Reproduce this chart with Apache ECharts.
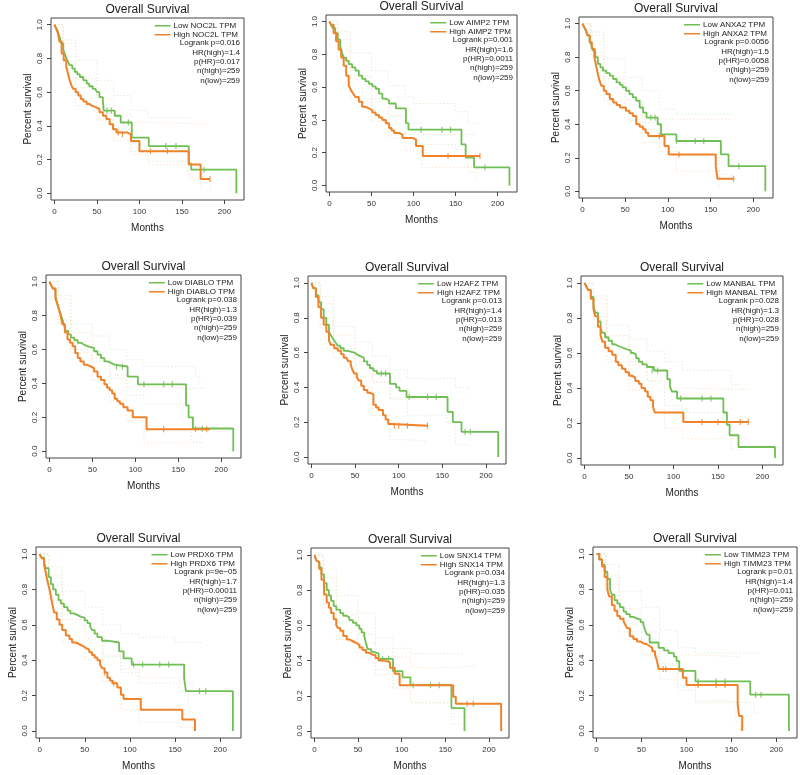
<!DOCTYPE html>
<html>
<head>
<meta charset="utf-8">
<script src="https://cdn.jsdelivr.net/npm/echarts@6/dist/echarts.min.js"></script>
<style>
  html, body { margin: 0; background: #fff; }
  #chart { width: 800px; height: 775px; }
</style>
</head>
<body>
<div id="chart"></div>
<script>
// genes and the stats printed in each panel
const genes = ['NOC2L', 'AIMP2', 'ANXA2', 'DIABLO', 'H2AFZ', 'MANBAL', 'PRDX6', 'SNX14', 'TIMM23'];
const logrankP = ['0.016', '0.001', '0.0056', '0.038', '0.013', '0.028', '9e\u221205', '0.034', '0.01'];
const hrHigh = ['1.4', '1.6', '1.5', '1.3', '1.4', '1.3', '1.7', '1.3', '1.4'];
const pHR = ['0.017', '0.0011', '0.0058', '0.039', '0.013', '0.028', '0.00011', '0.035', '0.011'];
const nHigh = [259, 259, 259, 259, 259, 259, 259, 259, 259];
const nLow = [259, 259, 259, 259, 259, 259, 259, 259, 259];

const xTicks = [0, 50, 100, 150, 200];
const yTicks = [0, 0.2, 0.4, 0.6, 0.8, 1.0];

// KM curves [month, survival]
const noc2lLow = [[0,1],[2,0.98],[4,0.96],[6,0.93],[8,0.89],[10.5,0.85],[12,0.83],[14,0.80],[16,0.78],[18,0.76],[21,0.74],[24,0.72],[27,0.705],[30,0.69],[34,0.67],[38,0.65],[41,0.635],[45,0.62],[48,0.61],[50,0.60],[53,0.57],[57,0.55],[58,0.49],[71,0.46],[78,0.42],[91,0.33],[111,0.28],[158,0.175],[161,0.14],[214,0.14],[214,0]];
const noc2lHigh = [[0,1],[2,0.98],[4,0.95],[6,0.90],[8.5,0.83],[11,0.79],[14,0.75],[16,0.71],[18,0.67],[20,0.64],[22,0.62],[25,0.60],[28,0.58],[31,0.56],[34,0.545],[38,0.53],[41,0.52],[44,0.51],[49,0.50],[53,0.48],[57,0.46],[61,0.44],[65,0.41],[69,0.38],[73,0.36],[86,0.35],[90,0.31],[100,0.25],[158,0.17],[172,0.085],[183,0.085]];
const aimp2Low = [[0,1],[2,0.98],[4,0.96],[7,0.93],[10,0.89],[13,0.85],[15,0.81],[17,0.78],[20,0.76],[23,0.74],[27,0.72],[31,0.70],[35,0.67],[39,0.65],[43,0.635],[47,0.62],[51,0.605],[55,0.59],[59,0.56],[63,0.53],[67,0.52],[71,0.50],[79,0.47],[91,0.38],[94,0.34],[157,0.25],[162,0.17],[172,0.11],[214,0.11],[214,0]];
const aimp2High = [[0,1],[2,0.98],[5,0.93],[8,0.88],[11,0.83],[14,0.78],[17,0.73],[20,0.67],[23,0.61],[25,0.59],[27,0.57],[29,0.555],[31,0.54],[35,0.51],[39,0.48],[43,0.47],[47,0.46],[51,0.445],[55,0.43],[59,0.415],[63,0.40],[67,0.38],[71,0.35],[74,0.335],[77,0.32],[83,0.31],[87,0.29],[99,0.28],[103,0.24],[111,0.18],[179,0.18]];
const anxa2Low = [[0,1],[2,0.98],[4,0.96],[6,0.93],[8.5,0.90],[10.5,0.87],[12.5,0.84],[15,0.80],[18,0.76],[21,0.74],[24,0.72],[28,0.705],[32,0.69],[36,0.67],[40,0.65],[44,0.635],[47,0.62],[51,0.60],[55,0.58],[59,0.56],[63,0.54],[67,0.50],[71,0.47],[75,0.44],[88,0.40],[92,0.34],[110,0.30],[162,0.22],[171,0.15],[214,0.15],[214,0]];
const anxa2High = [[0,1],[2,0.98],[4,0.96],[6,0.93],[8.5,0.89],[11,0.85],[14,0.80],[16,0.75],[18,0.70],[20,0.66],[22,0.63],[25,0.60],[28,0.58],[32,0.55],[36,0.53],[40,0.515],[44,0.50],[51,0.48],[55,0.465],[59,0.45],[63,0.40],[67,0.385],[71,0.37],[74,0.35],[77,0.33],[96,0.27],[101,0.22],[156,0.15],[158,0.075],[177,0.075]];
const diabloLow = [[0,1],[2,0.98],[4,0.96],[7,0.91],[9,0.875],[11,0.84],[13,0.81],[15,0.78],[17,0.745],[19,0.71],[22,0.69],[25,0.67],[29,0.655],[33,0.64],[37,0.63],[40,0.62],[44,0.615],[48,0.61],[52,0.59],[56,0.57],[60,0.55],[64,0.53],[68,0.52],[72,0.51],[76,0.50],[91,0.44],[103,0.395],[159,0.27],[162,0.20],[167,0.134],[214,0.134],[214,0]];
const diabloHigh = [[0,1],[2,0.98],[4,0.96],[7,0.90],[9,0.87],[11,0.84],[13,0.80],[15,0.75],[18,0.70],[21,0.66],[24,0.64],[27,0.62],[30,0.58],[33,0.55],[36,0.53],[40,0.51],[44,0.50],[48,0.49],[52,0.47],[56,0.44],[60,0.42],[64,0.395],[67,0.375],[70,0.36],[73,0.34],[76,0.31],[79,0.295],[82,0.28],[86,0.26],[91,0.24],[97,0.20],[113,0.13],[187,0.13]];
const h2afzLow = [[0,1],[2,0.97],[5,0.93],[8,0.89],[11,0.85],[14,0.80],[17,0.76],[20,0.72],[22,0.70],[24,0.685],[26,0.67],[28,0.655],[30,0.64],[33,0.625],[37,0.61],[41,0.605],[45,0.60],[49,0.59],[52,0.58],[56,0.57],[60,0.55],[64,0.53],[67,0.51],[71,0.495],[75,0.48],[90,0.42],[97,0.40],[101,0.38],[109,0.345],[156,0.26],[162,0.20],[172,0.145],[214,0.145],[214,0]];
const h2afzHigh = [[0,1],[2,0.97],[5,0.92],[8,0.86],[11,0.80],[14,0.76],[17,0.72],[20,0.67],[22,0.645],[26,0.625],[30,0.61],[34,0.59],[37,0.57],[40,0.56],[42,0.55],[45,0.53],[47,0.50],[49,0.48],[52,0.46],[54,0.44],[57,0.41],[60,0.385],[64,0.37],[67,0.36],[71,0.30],[74,0.285],[77,0.27],[82,0.24],[85,0.215],[88,0.19],[92,0.18],[133,0.18]];
const manbalLow = [[0,1],[2,0.98],[4,0.96],[7,0.92],[10,0.87],[12,0.83],[15,0.78],[18,0.74],[20,0.715],[23,0.69],[27,0.67],[31,0.65],[34,0.64],[38,0.63],[43,0.62],[48,0.615],[52,0.60],[55,0.59],[58,0.57],[61,0.55],[65,0.535],[70,0.52],[78,0.50],[93,0.45],[96,0.41],[98,0.38],[104,0.34],[156,0.26],[160,0.19],[163,0.13],[173,0.063],[214,0.063],[214,0]];
const manbalHigh = [[0,1],[2,0.98],[4,0.96],[7,0.91],[10,0.85],[12,0.81],[15,0.75],[18,0.70],[20,0.665],[23,0.63],[27,0.61],[31,0.59],[35,0.55],[38,0.53],[42,0.51],[46,0.49],[50,0.47],[53,0.46],[57,0.44],[61,0.425],[64,0.40],[68,0.38],[71,0.35],[74,0.33],[77,0.29],[79,0.26],[111,0.206],[184,0.206]];
const prdx6Low = [[0,1],[2,0.98],[5,0.95],[7,0.92],[10,0.87],[12.5,0.83],[15,0.80],[18,0.77],[21,0.74],[23.5,0.72],[27,0.70],[31,0.68],[34,0.665],[38,0.655],[42,0.645],[46,0.64],[50,0.625],[53,0.61],[56,0.59],[58,0.57],[61,0.55],[64,0.53],[69,0.51],[75,0.50],[88,0.45],[93,0.41],[102,0.375],[160,0.30],[162,0.225],[214,0.225],[214,0]];
const prdx6High = [[0,1],[2,0.98],[3,0.97],[5,0.94],[7,0.89],[9,0.84],[11,0.80],[12.5,0.76],[14,0.72],[16,0.67],[19,0.63],[22,0.60],[25,0.57],[29,0.54],[33,0.52],[36,0.50],[40,0.49],[44,0.48],[48,0.47],[51,0.46],[55,0.445],[58,0.43],[61,0.415],[64,0.40],[67,0.375],[69,0.355],[72,0.33],[75,0.30],[78,0.285],[80.5,0.27],[86,0.245],[90,0.205],[93,0.18],[112,0.12],[158,0.065],[172,0]];
const snx14Low = [[0,1],[2,0.97],[3,0.96],[5.5,0.93],[8,0.89],[11,0.84],[14,0.80],[16.5,0.77],[19,0.74],[22,0.71],[25,0.69],[29.5,0.67],[33,0.655],[37,0.645],[40,0.63],[44,0.615],[48,0.60],[51.5,0.58],[54,0.56],[57,0.54],[59,0.50],[61,0.465],[65,0.45],[68,0.44],[73.5,0.41],[90,0.34],[101,0.305],[110,0.26],[157,0.13],[172,0]];
const snx14High = [[0,1],[2,0.97],[3,0.96],[5.5,0.92],[8,0.86],[11,0.775],[14,0.73],[16.5,0.70],[19,0.67],[22,0.635],[25,0.60],[27,0.585],[29.5,0.57],[33,0.54],[37,0.52],[40,0.51],[44,0.50],[48,0.49],[51.5,0.475],[55,0.46],[59,0.445],[62,0.435],[66,0.43],[70,0.415],[73.5,0.40],[81,0.39],[86.5,0.36],[92,0.325],[97.6,0.26],[159,0.195],[162,0.155],[214,0.155],[214,0]];
const timm23Low = [[0,1],[3,0.97],[6,0.94],[9,0.90],[12,0.86],[15,0.80],[17,0.77],[20,0.74],[23,0.72],[26,0.70],[30,0.675],[33,0.66],[37,0.645],[41,0.635],[45,0.63],[49,0.615],[52,0.60],[54,0.57],[56,0.545],[59,0.50],[69,0.47],[75,0.455],[80,0.44],[86,0.42],[89,0.395],[92,0.34],[110,0.28],[171,0.205],[214,0.205],[214,0]];
const timm23High = [[0,1],[3,0.97],[6,0.93],[9,0.87],[12,0.80],[14,0.76],[17,0.71],[20,0.68],[23,0.65],[26,0.635],[30,0.62],[32,0.60],[34,0.58],[37,0.535],[41,0.52],[45,0.505],[49,0.495],[52,0.49],[56,0.48],[59,0.47],[62,0.45],[65,0.43],[67,0.40],[69,0.35],[96,0.30],[100,0.26],[157,0.15],[158.5,0.085],[162,0]];

// 95% confidence bands (faint dotted)
const noc2lLowUp = [[0,1],[10,0.91],[25,0.79],[50,0.67],[70,0.58],[90,0.49],[110,0.45],[160,0.45]];
const noc2lLowLo = [[0,1],[10,0.78],[25,0.63],[50,0.51],[70,0.38],[90,0.25],[110,0.19],[158,0.08],[172,0.03]];
const noc2lHighUp = [[0,1],[10,0.89],[25,0.68],[50,0.56],[70,0.47],[90,0.42],[110,0.41],[180,0.41]];
const noc2lHighLo = [[0,1],[10,0.75],[25,0.52],[50,0.43],[70,0.31],[90,0.23],[110,0.17],[160,0.09],[183,0.02]];
const aimp2LowUp = [[0,1],[10,0.94],[25,0.81],[50,0.70],[70,0.61],[90,0.54],[100,0.50],[150,0.45],[165,0.38],[175,0.37]];
const aimp2LowLo = [[0,1],[10,0.82],[25,0.67],[50,0.53],[70,0.42],[90,0.31],[100,0.25],[150,0.22],[165,0.08],[175,0.03]];
const aimp2HighUp = [[0,1],[10,0.89],[25,0.66],[50,0.51],[70,0.43],[90,0.38],[110,0.31],[175,0.30]];
const aimp2HighLo = [[0,1],[10,0.77],[25,0.53],[50,0.39],[70,0.29],[90,0.21],[110,0.11],[175,0.08]];
const anxa2LowUp = [[0,1],[10,0.95],[25,0.79],[50,0.68],[70,0.60],[90,0.49],[110,0.46],[175,0.45]];
const anxa2LowLo = [[0,1],[10,0.83],[25,0.65],[50,0.55],[70,0.41],[90,0.26],[110,0.21],[160,0.10],[175,0.04]];
const anxa2HighUp = [[0,1],[10,0.93],[25,0.67],[50,0.54],[70,0.45],[90,0.43],[110,0.43],[175,0.43]];
const anxa2HighLo = [[0,1],[10,0.81],[25,0.54],[50,0.42],[70,0.29],[90,0.24],[110,0.12],[160,0.02]];
const diabloLowUp = [[0,1],[10,0.92],[25,0.75],[50,0.68],[70,0.60],[90,0.54],[110,0.50],[155,0.50],[170,0.44],[175,0.38]];
const diabloLowLo = [[0,1],[10,0.78],[25,0.60],[50,0.53],[70,0.43],[90,0.33],[110,0.28],[155,0.27],[165,0.06],[175,0.04]];
const diabloHighUp = [[0,1],[10,0.90],[25,0.70],[50,0.55],[70,0.45],[90,0.38],[110,0.37],[180,0.37]];
const diabloHighLo = [[0,1],[10,0.75],[25,0.58],[50,0.42],[70,0.30],[90,0.18],[110,0.05],[180,0.05]];
const h2afzLowUp = [[0,1],[10,0.92],[25,0.75],[50,0.66],[70,0.58],[90,0.50],[110,0.45],[155,0.45],[165,0.40],[180,0.37]];
const h2afzLowLo = [[0,1],[10,0.80],[25,0.62],[50,0.53],[70,0.43],[90,0.33],[110,0.24],[155,0.20],[165,0.07],[180,0.05]];
const h2afzHighUp = [[0,1],[10,0.88],[25,0.70],[50,0.55],[70,0.43],[90,0.34],[110,0.33],[133,0.33]];
const h2afzHighLo = [[0,1],[10,0.74],[25,0.57],[50,0.40],[70,0.24],[90,0.10],[110,0.09],[133,0.09]];
const manbalLowUp = [[0,1],[10,0.93],[25,0.76],[50,0.68],[70,0.61],[90,0.55],[110,0.50],[150,0.50],[165,0.42],[175,0.41]];
const manbalLowLo = [[0,1],[10,0.81],[25,0.62],[50,0.55],[70,0.44],[90,0.30],[110,0.26],[155,0.20],[165,0.05],[175,0.02]];
const manbalHighUp = [[0,1],[10,0.91],[25,0.70],[50,0.53],[70,0.44],[90,0.40],[110,0.39],[184,0.39]];
const manbalHighLo = [[0,1],[10,0.79],[25,0.55],[50,0.39],[70,0.28],[90,0.17],[110,0.11],[184,0.11]];
const prdx6LowUp = [[0,1],[10,0.93],[25,0.79],[50,0.70],[70,0.60],[90,0.55],[110,0.53],[150,0.50],[180,0.50]];
const prdx6LowLo = [[0,1],[10,0.82],[25,0.66],[50,0.56],[70,0.42],[90,0.33],[110,0.27],[155,0.22],[165,0.10],[180,0.10]];
const prdx6HighUp = [[0,1],[10,0.88],[25,0.63],[50,0.52],[70,0.43],[90,0.35],[110,0.30],[155,0.27],[170,0.23]];
const prdx6HighLo = [[0,1],[10,0.74],[25,0.50],[50,0.40],[70,0.28],[90,0.12],[110,0.05],[155,0.02],[170,0]];
const snx14LowUp = [[0,1],[10,0.92],[25,0.77],[50,0.67],[70,0.53],[90,0.47],[110,0.44],[157,0.44],[172,0.44]];
const snx14LowLo = [[0,1],[10,0.80],[25,0.62],[50,0.50],[70,0.35],[90,0.25],[110,0.16],[157,0.04],[172,0]];
const snx14HighUp = [[0,1],[10,0.87],[25,0.66],[50,0.55],[70,0.47],[90,0.42],[110,0.36],[160,0.37],[185,0.37]];
const snx14HighLo = [[0,1],[10,0.72],[25,0.52],[50,0.42],[70,0.32],[90,0.24],[110,0.16],[160,0.08],[185,0.06]];
const timm23LowUp = [[0,1],[10,0.94],[25,0.79],[50,0.70],[70,0.57],[90,0.47],[110,0.44],[160,0.44],[180,0.43]];
const timm23LowLo = [[0,1],[10,0.83],[25,0.64],[50,0.52],[70,0.38],[90,0.26],[110,0.16],[160,0.16],[175,0.10],[180,0.10]];
const timm23HighUp = [[0,1],[10,0.88],[25,0.69],[50,0.56],[70,0.45],[90,0.43],[110,0.42],[160,0.42]];
const timm23HighLo = [[0,1],[10,0.74],[25,0.56],[50,0.43],[70,0.29],[90,0.23],[110,0.17],[155,0.05],[160,0]];

// censor ticks
const noc2lLowCens = [[62,0.49],[67,0.49],[87,0.42],[131,0.28],[143,0.28],[176,0.14]];
const noc2lHighCens = [[75,0.36],[80,0.35],[113,0.25],[133,0.25],[183,0.085]];
const aimp2LowCens = [[109,0.34],[134,0.34],[144,0.34],[185,0.11]];
const aimp2HighCens = [[141,0.18],[179,0.18]];
const anxa2LowCens = [[80,0.44],[85,0.44],[110,0.30],[132,0.30],[142,0.30],[183,0.15]];
const anxa2HighCens = [[90,0.33],[113,0.22],[177,0.075]];
const diabloLowCens = [[78,0.50],[85,0.50],[110,0.395],[133,0.395],[143,0.395],[178,0.134]];
const diabloHighCens = [[133,0.13],[170,0.13],[183,0.13]];
const h2afzLowCens = [[80,0.48],[85,0.48],[112,0.345],[133,0.345],[143,0.345],[176,0.145],[182,0.145]];
const h2afzHighCens = [[95,0.18],[100,0.18],[110,0.18],[133,0.18]];
const manbalLowCens = [[76,0.50],[82,0.50],[108,0.34],[132,0.34],[142,0.34]];
const manbalHighCens = [[132,0.206],[150,0.206],[175,0.206],[184,0.206]];
const prdx6LowCens = [[104,0.375],[114,0.375],[133,0.375],[143,0.375],[177,0.225],[184,0.225]];
const prdx6HighCens = [[72,0.33],[82,0.27]];
const snx14LowCens = [[78,0.41],[85,0.41],[113,0.26],[133,0.26],[143,0.26]];
const snx14HighCens = [[175,0.155],[182,0.155]];
const timm23LowCens = [[113,0.28],[133,0.28],[143,0.28],[177,0.205],[183,0.205]];
const timm23HighCens = [[74,0.35],[77,0.35],[113,0.26],[133,0.26],[143,0.26]];

const lowCurves = [noc2lLow, aimp2Low, anxa2Low, diabloLow, h2afzLow, manbalLow, prdx6Low, snx14Low, timm23Low];
const highCurves = [noc2lHigh, aimp2High, anxa2High, diabloHigh, h2afzHigh, manbalHigh, prdx6High, snx14High, timm23High];
const lowUps = [noc2lLowUp, aimp2LowUp, anxa2LowUp, diabloLowUp, h2afzLowUp, manbalLowUp, prdx6LowUp, snx14LowUp, timm23LowUp];
const lowLos = [noc2lLowLo, aimp2LowLo, anxa2LowLo, diabloLowLo, h2afzLowLo, manbalLowLo, prdx6LowLo, snx14LowLo, timm23LowLo];
const highUps = [noc2lHighUp, aimp2HighUp, anxa2HighUp, diabloHighUp, h2afzHighUp, manbalHighUp, prdx6HighUp, snx14HighUp, timm23HighUp];
const highLos = [noc2lHighLo, aimp2HighLo, anxa2HighLo, diabloHighLo, h2afzHighLo, manbalHighLo, prdx6HighLo, snx14HighLo, timm23HighLo];
const lowCens = [noc2lLowCens, aimp2LowCens, anxa2LowCens, diabloLowCens, h2afzLowCens, manbalLowCens, prdx6LowCens, snx14LowCens, timm23LowCens];
const highCens = [noc2lHighCens, aimp2HighCens, anxa2HighCens, diabloHighCens, h2afzHighCens, manbalHighCens, prdx6HighCens, snx14HighCens, timm23HighCens];

// plot boxes in px: left, top, width, height
const boxes = [
  [51, 18, 193, 182], [326, 15, 191, 177], [579, 17, 194, 181],
  [46, 275, 195, 183], [308, 276, 198, 188], [581, 276, 202, 189],
  [36, 547, 205, 191], [311, 548, 198, 190], [593, 547, 204, 191]
];

const FONT = '"Liberation Sans", Arial, sans-serif';
const GREEN = '#6fbf55';
const ORANGE = '#f0822a';
const GREEN_CI = '#dff0d6';
const ORANGE_CI = '#fde5d2';

const chart = echarts.init(document.getElementById('chart'), null, { renderer: 'canvas' });

let grids = [], xAxes = [], yAxes = [], titles = [], legends = [], graphics = [], series = [];

genes.forEach(function (g, i) {
  const b = boxes[i];
  const lowName = 'Low ' + g + ' TPM';
  const highName = 'High ' + g + ' TPM';

  grids.push({ left: b[0], top: b[1], width: b[2], height: b[3], show: true,
    borderColor: '#444', borderWidth: 1, outerBoundsMode: 'none' });

  xAxes.push({
    type: 'value', gridIndex: i, min: -4, max: 223,
    name: 'Months', nameLocation: 'middle', nameGap: 23,
    nameTextStyle: { fontSize: 10, color: '#222', fontFamily: FONT },
    axisLine: { show: false, onZero: false },
    splitLine: { show: false },
    axisTick: { show: true, length: 4, customValues: xTicks, lineStyle: { color: '#444' } },
    axisLabel: { customValues: xTicks, fontSize: 8, color: '#333', margin: 8, fontFamily: FONT }
  });
  yAxes.push({
    type: 'value', gridIndex: i, min: -0.04, max: 1.04,
    name: 'Percent survival', nameLocation: 'middle', nameGap: 18,
    nameTextStyle: { fontSize: 10, color: '#222', fontFamily: FONT },
    axisLine: { show: false, onZero: false },
    splitLine: { show: false },
    axisTick: { show: true, length: 4, customValues: yTicks, lineStyle: { color: '#444' } },
    axisLabel: { customValues: yTicks, rotate: 90, fontSize: 8, color: '#333', margin: 7, fontFamily: FONT,
      formatter: function (v) { return v.toFixed(1); } }
  });

  titles.push({ text: 'Overall Survival', left: b[0] + b[2] / 2, top: b[1] - 14, textAlign: 'center', padding: 0,
    textStyle: { fontSize: 12, fontWeight: 'normal', color: '#222', fontFamily: FONT } });

  legends.push({
    data: [lowName, highName], orient: 'vertical', align: 'left',
    right: 800 - (b[0] + b[2] - 6), top: b[1] + 3.5, padding: 0, itemGap: 0.5,
    itemWidth: 16, itemHeight: 1.5, icon: 'rect', selectedMode: false,
    textStyle: { fontSize: 8, color: '#222', lineHeight: 8.5, fontFamily: FONT, padding: [0, 0, 0, -2] }
  });

  graphics.push({
    type: 'text', x: b[0] + b[2] - 4, y: b[1] + 20.5, silent: true,
    style: {
      text: ['Logrank p=' + logrankP[i], 'HR(high)=' + hrHigh[i], 'p(HR)=' + pHR[i],
             'n(high)=' + nHigh[i], 'n(low)=' + nLow[i]].join('\n'),
      align: 'right', verticalAlign: 'top', fontSize: 8, lineHeight: 9.3, fill: '#222', fontFamily: FONT
    }
  });

  const ci = function (name, data, color) {
    return { name: name, type: 'line', step: 'end', xAxisIndex: i, yAxisIndex: i, data: data,
      showSymbol: false, silent: true, z: 1,
      lineStyle: { color: color, width: 1, type: [1.5, 2] } };
  };
  series.push(ci(g + ' low up', lowUps[i], GREEN_CI));
  series.push(ci(g + ' low lo', lowLos[i], GREEN_CI));
  series.push(ci(g + ' high up', highUps[i], ORANGE_CI));
  series.push(ci(g + ' high lo', highLos[i], ORANGE_CI));

  series.push({ name: lowName, type: 'line', step: 'end', xAxisIndex: i, yAxisIndex: i, data: lowCurves[i],
    showSymbol: false, silent: true, z: 3, color: GREEN, lineStyle: { color: GREEN, width: 1.8 } });
  series.push({ name: highName, type: 'line', step: 'end', xAxisIndex: i, yAxisIndex: i, data: highCurves[i],
    showSymbol: false, silent: true, z: 4, color: ORANGE, lineStyle: { color: ORANGE, width: 2 } });

  series.push({ name: g + ' low cens', type: 'scatter', xAxisIndex: i, yAxisIndex: i, data: lowCens[i],
    symbol: 'rect', symbolSize: [1.2, 6], silent: true, z: 3, itemStyle: { color: GREEN } });
  series.push({ name: g + ' high cens', type: 'scatter', xAxisIndex: i, yAxisIndex: i, data: highCens[i],
    symbol: 'rect', symbolSize: [1.2, 6], silent: true, z: 4, itemStyle: { color: ORANGE } });
});

chart.setOption({
  backgroundColor: '#fff',
  animation: false,
  textStyle: { fontFamily: FONT },
  title: titles,
  legend: legends,
  grid: grids,
  xAxis: xAxes,
  yAxis: yAxes,
  graphic: graphics,
  series: series
});
</script>
</body>
</html>
